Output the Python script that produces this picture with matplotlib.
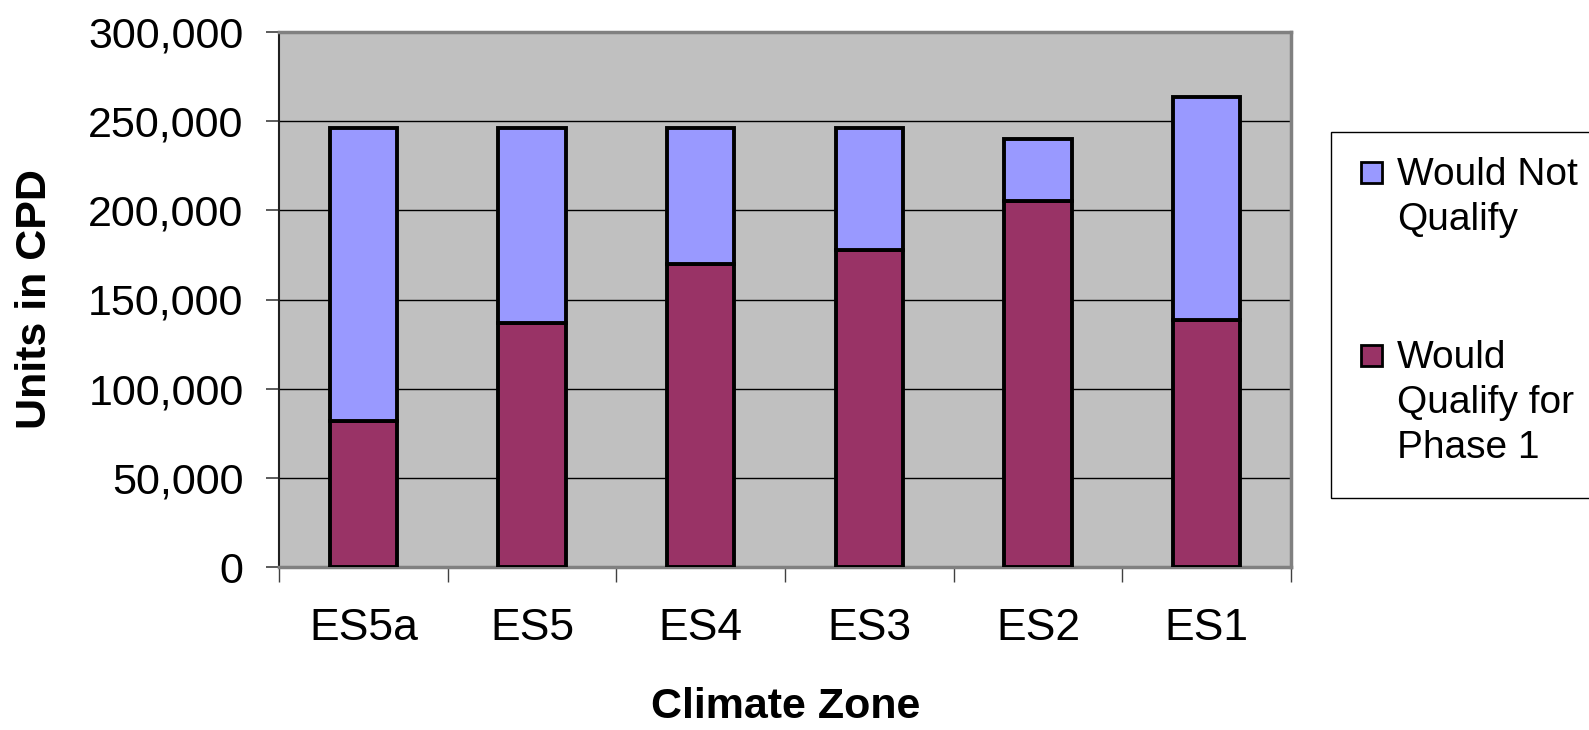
import matplotlib

matplotlib.use("Agg")
import matplotlib.pyplot as plt
from matplotlib.patches import Rectangle
from matplotlib.ticker import FuncFormatter, MultipleLocator

plt.rcParams["font.family"] = ["Liberation Sans", "DejaVu Sans"]

zones = ["ES5a", "ES5", "ES4", "ES3", "ES2", "ES1"]
qualify = [82000, 136600, 170000, 177700, 205000, 138500]
totals = [245800, 245800, 245800, 245800, 239800, 263500]
not_qualify = [t - q for t, q in zip(totals, qualify)]

labels = ["Would Not\nQualify", "Would\nQualify for\nPhase 1"]
colors = ["#9999FF", "#993366"]

W, H = 1589, 730
fig = plt.figure(figsize=(W / 100, H / 100), dpi=100)
ax = fig.add_axes([279 / W, 1 - 567.3 / H, (1291 - 279) / W, (567.3 - 31.7) / H])
ax.set_facecolor("#C0C0C0")

x = range(len(zones))
ax.bar(x, qualify, width=0.4, color=colors[1], edgecolor="black", linewidth=2.8, zorder=3)
ax.bar(x, not_qualify, bottom=qualify, width=0.4, color=colors[0],
       edgecolor="black", linewidth=2.8, zorder=3)

ax.set_xlim(-0.5, len(zones) - 0.5)
ax.set_ylim(0, 300000)
ax.yaxis.set_major_locator(MultipleLocator(50000))
ax.yaxis.set_major_formatter(FuncFormatter(lambda v, _: f"{v:,.0f}"))
ax.grid(axis="y", color="black", linewidth=1, zorder=1)

ax.set_xticks(list(x))
ax.set_xticklabels(zones)
ax.set_xticks([i - 0.5 for i in range(len(zones) + 1)], minor=True)
ax.tick_params(axis="x", which="major", length=0, pad=29, labelsize=32)
ax.tick_params(axis="x", which="minor", length=11, width=1, color="#404040")
ax.tick_params(axis="y", length=9.5, width=1.2, color="#404040", pad=16, labelsize=31)

for side in ("top", "right", "bottom"):
    ax.spines[side].set_color("#808080")
    ax.spines[side].set_linewidth(2.5)
ax.spines["left"].set_color("#202020")
ax.spines["left"].set_linewidth(1.5)

fig.text(35.5 / W, 1 - 299.5 / H, "Units in CPD", rotation=90, ha="center",
         va="center", fontsize=31, fontweight="bold")
fig.text(786 / W, 1 - 707 / H, "Climate Zone", ha="center", va="center",
         fontsize=31, fontweight="bold")

# legend drawn by hand so the swatch sits on the first line of each label
fig.patches.append(Rectangle((1331 / W, 1 - 498 / H), 300 / W, (498 - 132) / H,
                             transform=fig.transFigure, facecolor="white",
                             edgecolor="black", linewidth=1))
for lab, col, ytop in zip(labels, colors, [162, 345]):
    fig.patches.append(Rectangle((1361 / W, 1 - (ytop + 21) / H), 21 / W, 21 / H,
                                 transform=fig.transFigure, facecolor=col,
                                 edgecolor="black", linewidth=2))
    fig.text(1397 / W, 1 - (ytop - 5) / H, lab, ha="left", va="top",
             fontsize=28, linespacing=1.33)

fig.savefig("out.png", dpi=100)
